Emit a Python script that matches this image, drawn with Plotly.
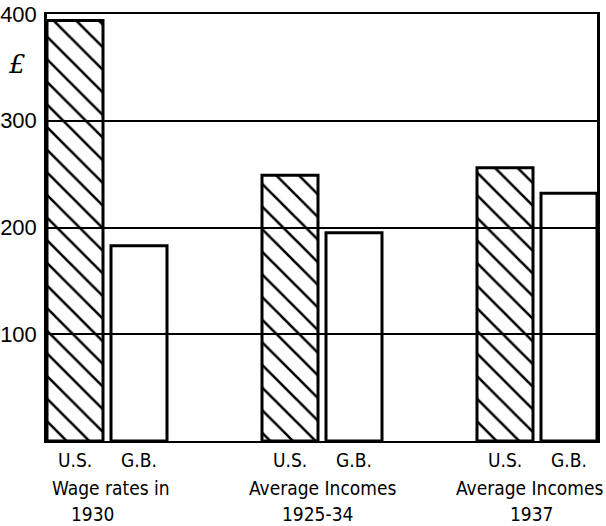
import plotly.graph_objects as go

# ---- data ----
group_line1 = ["Wage rates in", "Average Incomes", "Average Incomes"]
group_line2 = ["1930", "1925-34", "1937"]
us_values = [394, 249, 256]
gb_values = [183, 195, 232]
series_labels = ["U.S.", "G.B."]
y_ticks = [100, 200, 300, 400]

# ---- layout helpers (positions in x-axis units) ----
group_step = 215
us_offset = 28
gb_offset = 92
bar_width = 56
n = len(group_line1)

us_x = [i * group_step + us_offset for i in range(n)]
gb_x = [i * group_step + gb_offset for i in range(n)]
x_max = gb_x[-1] + bar_width / 2

FONT = "Liberation Sans Narrow, DejaVu Sans Condensed, Arial Narrow, sans-serif"
TXT = dict(family=FONT, size=19, color="black")

fig = go.Figure()
fig.add_trace(go.Bar(
    x=us_x, y=us_values, width=bar_width, name="U.S.",
    marker=dict(color="rgba(0,0,0,0)",
                line=dict(color="black", width=3),
                pattern=dict(shape="\\", size=16, solidity=0.16,
                             fgcolor="black", fgopacity=1,
                             bgcolor="rgba(0,0,0,0)",
                             fillmode="overlay")),
    showlegend=False,
))
fig.add_trace(go.Bar(
    x=gb_x, y=gb_values, width=bar_width, name="G.B.",
    marker=dict(color="rgba(0,0,0,0)",
                line=dict(color="black", width=3)),
    showlegend=False,
))

def py(p):
    return (441 - p) / 427

annotations = []
for i in range(n):
    annotations.append(dict(x=us_x[i], y=py(460), xref="x", yref="paper",
                            text=series_labels[0], showarrow=False, font=TXT,
                            xanchor="center", yanchor="middle"))
    annotations.append(dict(x=gb_x[i], y=py(460), xref="x", yref="paper",
                            text=series_labels[1], showarrow=False, font=TXT,
                            xanchor="center", yanchor="middle"))
    center = (us_x[i] + gb_x[i]) / 2
    annotations.append(dict(x=center, y=py(488), xref="x", yref="paper",
                            text=group_line1[i], showarrow=False, font=TXT,
                            xanchor="center", yanchor="middle",
                            xshift=4 if i == 0 else (-8 if i == 2 else 0)))
    annotations.append(dict(x=center, y=py(514), xref="x", yref="paper",
                            text=group_line2[i], showarrow=False, font=TXT,
                            xanchor="center", yanchor="middle",
                            xshift=-14 if i == 0 else -5))

annotations.append(dict(x=(17 - 47) / 550, y=py(64), xref="paper", yref="paper",
                        text="<i>£</i>", showarrow=False,
                        font=dict(family="DejaVu Serif, serif", size=26, color="black"),
                        xanchor="center", yanchor="middle"))

fig.update_layout(
    width=606, height=526,
    margin=dict(l=47, r=9, t=14, b=85, autoexpand=False),
    paper_bgcolor="white", plot_bgcolor="white",
    barmode="overlay",
    annotations=annotations,
    xaxis=dict(range=[0, x_max], automargin=False,
               showgrid=False, zeroline=False, showticklabels=False, ticks="",
               showline=True, linecolor="black", linewidth=2, mirror=True, fixedrange=True),
    yaxis=dict(range=[0, 400], tickvals=y_ticks, ticktext=[str(v) for v in y_ticks],
               automargin=False,
               showgrid=True, gridcolor="black", gridwidth=1.5, zeroline=False,
               showline=True, linecolor="black", linewidth=2.5, mirror=True, ticks="",
               tickfont=dict(family="Liberation Sans, Arial, sans-serif", size=22, color="black"),
               ticklabelstandoff=3),
)

fig.write_html("out.html", config={"displayModeBar": False},
               post_script="document.body.style.margin='0';")
